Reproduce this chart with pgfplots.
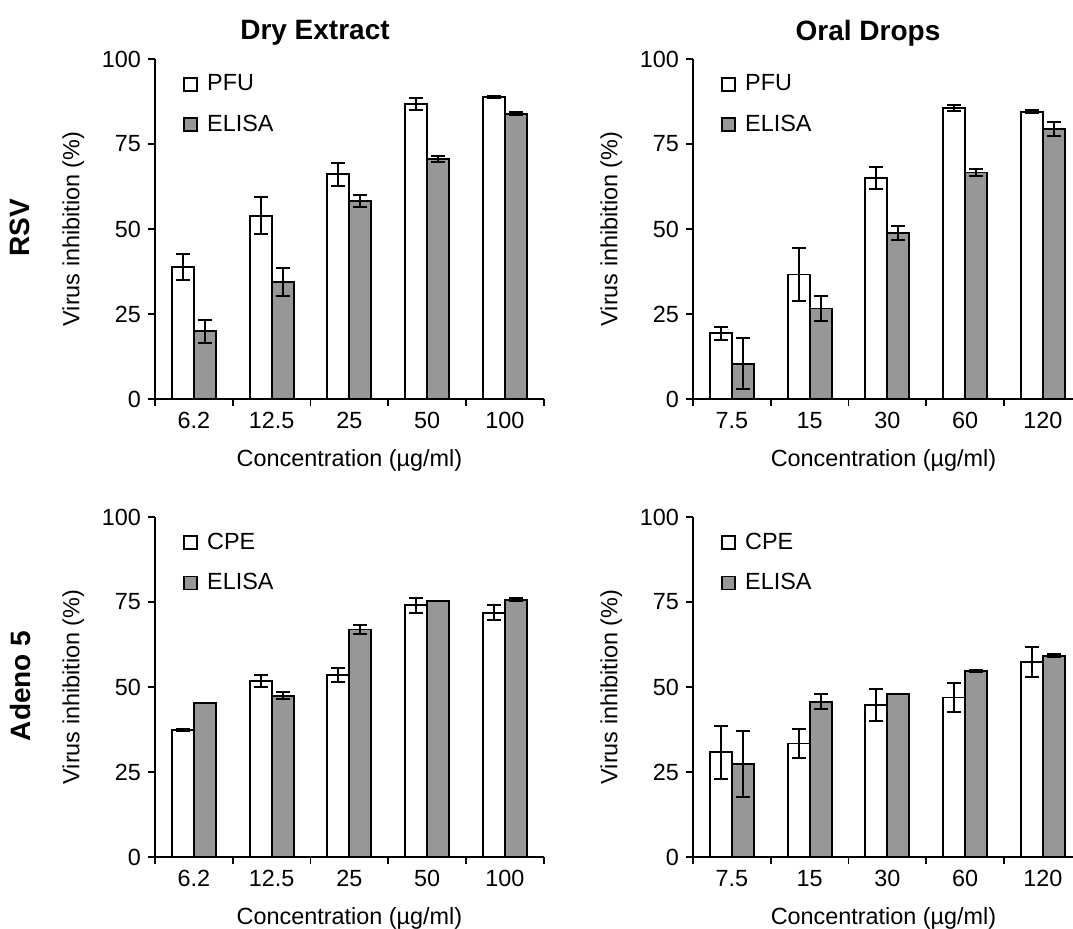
\documentclass[border=0pt]{standalone}
\usepackage{fontspec}
\setmainfont{Liberation Sans}
\usepackage{pgfplots}
\usepackage{pgfplotstable}
\pgfplotsset{compat=1.18}
\definecolor{elisagray}{HTML}{979797}

% x = category index, a/ea = PFU or CPE, b/eb = ELISA
\pgfplotstableread{
x a ea b eb
0 38.9 3.8 19.9 3.4
1 53.9 5.5 34.3 4.1
2 66.1 3.4 58.2 1.7
3 86.7 1.7 70.6 0.9
4 88.9 0.3 83.9 0.5
}\rsvdry
\pgfplotstableread{
x a ea b eb
0 19.3 2.0 10.4 7.6
1 36.6 7.8 26.6 3.7
2 65.0 3.3 48.8 2.0
3 85.6 0.9 66.6 1.1
4 84.5 0.4 79.5 2.1
}\rsvoral
\pgfplotstableread{
x a ea b eb
0 37.3 0.3 45.4 0.0
1 51.8 1.7 47.4 1.0
2 53.5 2.1 66.9 1.2
3 74.0 2.3 75.2 0.0
4 71.8 2.2 75.7 0.4
}\adenodry
\pgfplotstableread{
x a ea b eb
0 30.8 7.8 27.4 9.7
1 33.4 4.2 45.7 2.2
2 44.6 4.7 48.0 0.0
3 46.9 4.2 54.7 0.4
4 57.4 4.4 59.2 0.4
}\adenooral

\pgfplotsset{
  panel/.style={
    scale only axis,
    x=38.875pt, height=170pt,
    ybar=0pt, bar width=11pt,
    axis lines*=left,
    axis line style={-, line width=0.8pt},
    every tick/.style={black, line width=0.8pt},
    tick align=outside,
    major tick length=3.5pt,
    ymin=0, ymax=100, ytick={0,25,50,75,100},
    xmin=-0.5, xmax=4.5,
    xtick={-0.5,0.5,...,4.5}, xticklabels={},
    extra x ticks={0,1,2,3,4},
    extra x tick style={major tick length=0pt, xticklabel style={yshift=-3pt}},
    font=\fontsize{11.7}{13}\selectfont,
    tick label style={font=\fontsize{11.7}{13}\selectfont},
    label style={font=\fontsize{11.7}{13}\selectfont},
    /pgf/number format/assume math mode=true,
    ylabel={Virus inhibition (\%)},
    xlabel={Concentration (µg/ml)},
    ylabel style={yshift=2pt},
    legend style={draw=none, fill=none, at={(axis description cs:0,1)},
      anchor=north west, xshift=11pt, yshift=-3.7pt, row sep=6.6pt,
      font=\fontsize{11.7}{13}\selectfont,
      /tikz/every odd column/.append style={column sep=2.5pt}},
    legend cell align=left,
    legend image code/.code={\draw[#1] (0pt,-3.25pt) rectangle (6.5pt,3.25pt);},
  },
  errs/.style={error bars/.cd, y dir=both, y explicit,
    error bar style={line width=1pt, black},
    error mark options={rotate=90, mark size=3.5pt, line width=1pt, black}},
  barA/.style={draw=black, line width=0.9pt, fill=white, errs},
  barB/.style={draw=black, line width=0.9pt, fill=elisagray, errs},
}

\begin{document}
\begin{tikzpicture}
\path[use as bounding box] (0,0) rectangle (536.5pt,464.5pt);

% ---- RSV, dry extract
\begin{axis}[panel, at={(77.5pt,265pt)}, anchor=south west,
  extra x tick labels={6.2,12.5,25,50,100}]
\addplot[barA] table[x=x, y=a, y error=ea] {\rsvdry};
\addplot[barB] table[x=x, y=b, y error=eb] {\rsvdry};
\legend{PFU, ELISA}
\end{axis}

% ---- RSV, oral drops
\begin{axis}[panel, at={(346.5pt,265pt)}, anchor=south west, xmax=4.4,
  extra x tick labels={7.5,15,30,60,120}]
\addplot[barA] table[x=x, y=a, y error=ea] {\rsvoral};
\addplot[barB] table[x=x, y=b, y error=eb] {\rsvoral};
\legend{PFU, ELISA}
\end{axis}

% ---- Adeno 5, dry extract
\begin{axis}[panel, at={(77.5pt,36pt)}, anchor=south west,
  extra x tick labels={6.2,12.5,25,50,100}]
\addplot[barA] table[x=x, y=a, y error=ea] {\adenodry};
\addplot[barB] table[x=x, y=b, y error=eb] {\adenodry};
\legend{CPE, ELISA}
\end{axis}

% ---- Adeno 5, oral drops
\begin{axis}[panel, at={(346.5pt,36pt)}, anchor=south west, xmax=4.4,
  extra x tick labels={7.5,15,30,60,120}]
\addplot[barA] table[x=x, y=a, y error=ea] {\adenooral};
\addplot[barB] table[x=x, y=b, y error=eb] {\adenooral};
\legend{CPE, ELISA}
\end{axis}

\node[font=\fontsize{14}{16}\selectfont\bfseries] at (157.5pt,448pt) {Dry Extract};
\node[font=\fontsize{14}{16}\selectfont\bfseries] at (434pt,448pt) {Oral Drops};
\node[font=\fontsize{14}{16}\selectfont\bfseries, rotate=90] at (10pt,350.5pt) {RSV};
\node[font=\fontsize{14}{16}\selectfont\bfseries, rotate=90] at (10pt,121.5pt) {Adeno 5};
\end{tikzpicture}
\end{document}
